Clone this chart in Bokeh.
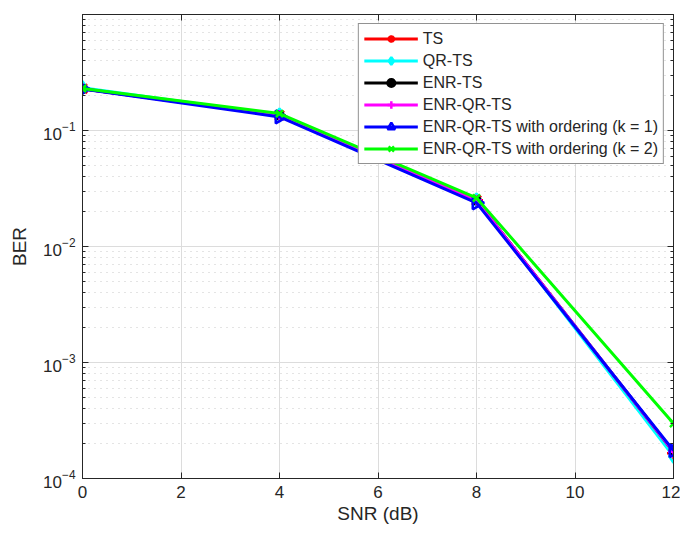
from bokeh.plotting import figure
from bokeh.models import LogAxis, LinearAxis, FixedTicker, Legend, LegendItem, ColumnDataSource
from bokeh.embed import file_html
from bokeh.resources import INLINE

snr = [0, 4, 8, 12]
ber_ts = [0.229, 0.135, 0.0250, 1.65e-4]
ber_qr_ts = [0.234, 0.136, 0.0252, 1.55e-4]
ber_enr_ts = [0.229, 0.135, 0.0250, 1.70e-4]
ber_enr_qr_ts = [0.229, 0.135, 0.0250, 1.70e-4]
ber_ord_k1 = [0.228, 0.131, 0.0238, 1.74e-4]
ber_ord_k2 = [0.230, 0.140, 0.0262, 2.98e-4]
x_ticks = [0, 2, 4, 6, 8, 10, 12]
y_ticks = [1e-4, 1e-3, 1e-2, 1e-1]

FONT = "Liberation Sans"
AX = "#262626"

y_minor = [m * t for t in y_ticks for m in range(2, 10)]

p = figure(width=680, height=528, y_axis_type="log", x_range=(0, 12), y_range=(1e-4, 1),
           output_backend="svg", toolbar_location=None,
           min_border_left=82, min_border_right=7, min_border_top=14, min_border_bottom=50,
           background_fill_color="white", border_fill_color="white")
p.outline_line_color = AX
p.outline_line_width = 1

p.xaxis.ticker = FixedTicker(ticks=x_ticks)
p.yaxis.ticker = FixedTicker(ticks=y_ticks, minor_ticks=y_minor)
p.xaxis.axis_label = "SNR (dB)"
p.yaxis.axis_label = "BER"
for ax in [p.xaxis[0], p.yaxis[0]]:
    ax.axis_label_text_font = FONT
    ax.axis_label_text_font_style = "normal"
    ax.axis_label_text_font_size = "19px"
    ax.axis_label_text_color = AX
    ax.major_label_text_font = FONT
    ax.major_label_text_font_size = "17px"
    ax.major_label_text_color = AX
    ax.axis_line_color = AX
    ax.major_tick_line_color = AX
    ax.minor_tick_line_color = AX
    ax.major_tick_in = 6
    ax.major_tick_out = 0
    ax.minor_tick_in = 3
    ax.minor_tick_out = 0
    ax.major_label_standoff = 7
p.xaxis.minor_tick_line_color = None
p.xaxis.axis_label_standoff = 2
p.yaxis.axis_label_standoff = 10

# box axes (right / top) with ticks only
r_ax = LogAxis(ticker=FixedTicker(ticks=y_ticks, minor_ticks=y_minor), major_label_text_font_size="1px",
               major_label_text_color=None,
               major_tick_in=6, major_tick_out=0, minor_tick_in=3, minor_tick_out=0,
               axis_line_color=AX, major_tick_line_color=AX, minor_tick_line_color=AX,
               major_label_standoff=0)
p.add_layout(r_ax, "right")
t_ax = LinearAxis(ticker=FixedTicker(ticks=x_ticks), major_label_text_font_size="1px",
                  major_label_text_color=None,
                  major_tick_in=6, major_tick_out=0, minor_tick_line_color=None,
                  axis_line_color=AX, major_tick_line_color=AX, major_label_standoff=0)
p.add_layout(t_ax, "above")

p.xgrid.grid_line_color = "#dcdcdc"
p.ygrid.grid_line_color = "#dcdcdc"
p.ygrid.minor_grid_line_color = "#c8c8c8"
p.ygrid.minor_grid_line_dash = "1 5"

LW = 3
series = [
    ("TS", ber_ts, "#ff0000", "asterisk", 13, dict(fill_color="#ff0000"), 0.0),
    ("QR-TS", ber_qr_ts, "#00ffff", "diamond", 13, dict(fill_color=None), 0.0),
    ("ENR-TS", ber_enr_ts, "#000000", "circle", 8, dict(fill_color="#000000"), 0.0),
    ("ENR-QR-TS", ber_enr_qr_ts, "#ff00ff", "cross", 11, dict(fill_color=None), 0.0),
    ("ENR-QR-TS with ordering (k = 1)", ber_ord_k1, "#0000ff", "triangle", 13, dict(fill_color=None), -1.5708),
    ("ENR-QR-TS with ordering (k = 2)", ber_ord_k2, "#00ff00", "x", 10, dict(fill_color=None), 0.0),
]
items = []
for name, ys, col, mk, sz, kw, ang in series:
    src = ColumnDataSource(dict(x=snr, y=ys, a=[ang] * len(snr)))
    l = p.line("x", "y", source=src, line_color=col, line_width=LW)
    s = p.scatter("x", "y", source=src, marker=mk, size=sz, angle="a", line_color=col, line_width=2.5, **kw)
    items.append(LegendItem(label=name, renderers=[l, s]))

leg = Legend(items=items, location="top_right")
leg.label_text_font = FONT
leg.label_text_font_size = "16px"
leg.label_text_color = AX
leg.glyph_width = 54
leg.glyph_height = 19
leg.label_height = 19
leg.spacing = 3
leg.padding = 5
leg.margin = 9
leg.label_standoff = 5
leg.border_line_color = AX
leg.border_line_width = 1
leg.background_fill_alpha = 1
p.add_layout(leg)

open("out.html", "w").write(file_html(p, INLINE))
